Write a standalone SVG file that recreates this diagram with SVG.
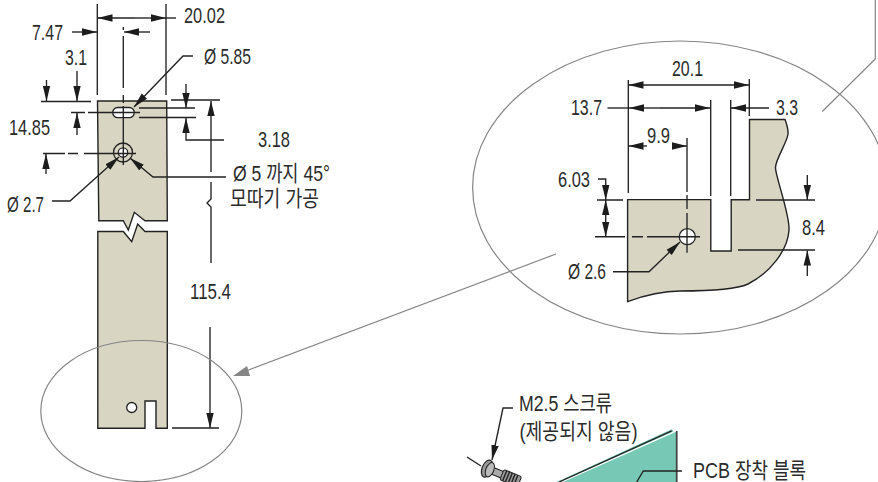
<svg xmlns="http://www.w3.org/2000/svg" width="878" height="482" viewBox="0 0 878 482">
<style>
text{font-family:"Liberation Sans","Noto Sans CJK KR",sans-serif;font-size:22px;fill:#2b2b2b}
.part{fill:#d8d5c2;stroke:#222;stroke-width:1.4}
.hole{fill:#fff;stroke:#222;stroke-width:1.3}
.dim{fill:none;stroke:#222;stroke-width:1.35}
.arr{fill:none;stroke:#222;stroke-width:1.35;marker-end:url(#a)}
.gray{fill:none;stroke:#858585;stroke-width:1.2}
</style>
<defs>
<marker id="a" markerUnits="userSpaceOnUse" markerWidth="16" markerHeight="8" refX="15" refY="4" orient="auto"><path d="M0,0.3 L15,4 L0,7.7 Z" fill="#1c1c1c"/></marker>
</defs>
<rect width="878" height="482" fill="#fff"/>
<g id="strip-upper">
<path class="part" d="M97.5,101 H166.7 L167.3,220.7 H145 L134.3,212.3 L128.3,230 L123.3,220.7 H98.8 Z"/>
<rect class="hole" x="112.7" y="107.5" width="21.6" height="10.2" rx="5.1"/>
<circle cx="123" cy="152.5" r="9.5" fill="none" stroke="#222" stroke-width="1.3"/>
<circle class="hole" cx="123" cy="152.5" r="4.7"/>
</g>
<g id="strip-lower">
<path class="part" d="M97.8,231.5 H123.3 L131.7,241.7 L137.7,224 L145,231.5 H167.3 V428.3 H156 V401 H145 V428.3 H97.8 Z"/>
<circle class="hole" cx="131.7" cy="407.5" r="5"/>
</g>
<g id="detail-part">
<path class="part" d="M627.6,199.6 H710.8 V251 H731.2 V199.7 H749.5 V119.5 H785 C787,125 788.5,129 788,134 C787,143 775,160 775.5,168 C776,178 790,215 789,230 C788,250 770,273 748,284 C735,290 700,291 680,291 C660,291 640,297 627.6,301.6 Z"/>
<circle class="hole" cx="687.3" cy="236.7" r="8"/>
</g>
<g id="pcb-block">
<path d="M671.7,429.3 L673.5,431.5 L560,482 H556.7 Z" fill="#77c8b4"/>
<path d="M676.7,431.5 V482 H563 Z" fill="#77c8b4"/>
<path d="M671.7,430.8 L559,482" class="dim"/>
<path d="M676.7,431 V482" fill="none" stroke="#444" stroke-width="1.8"/>
</g>
<g id="screw">
<path d="M467,457 L481,466" class="dim"/>
<g transform="translate(488 469) rotate(22)">
<rect x="4" y="-3.5" width="12" height="7" fill="#aaa" stroke="#222" stroke-width="1"/>
<rect x="15" y="-5.5" width="19" height="11" rx="2" fill="#999" stroke="#222" stroke-width="1"/>
<path d="M18,-5.5 V5.5 M21,-5.5 V5.5 M24,-5.5 V5.5 M27,-5.5 V5.5 M30,-5.5 V5.5" stroke="#222" stroke-width="1.4" fill="none"/>
<ellipse cx="-1" cy="0" rx="5" ry="9" fill="#999" stroke="#222" stroke-width="1.2"/>
<ellipse cx="2" cy="0" rx="4" ry="7.5" fill="#bbb" stroke="#222" stroke-width="1"/>
</g>
</g>
<g id="connectors">
<path class="dim" d="M97.3,4 V95 M166,4 V95"/>
<path class="arr" d="M135,18 H97.5"/>
<path class="arr" d="M135,18 H166"/>
<path class="dim" d="M166,18 H176"/>
<path class="arr" d="M72,32 H97"/>
<path class="arr" d="M150,32 H124"/>
<path class="dim" d="M123.3,27 V30 M123.3,36 V88 M123.3,95 V103 M123.3,106 V165"/>
<path class="arr" d="M46.5,80 V101"/>
<path class="arr" d="M77,71 V101"/>
<path class="arr" d="M77,135 V113"/>
<path class="dim" d="M41,101.5 H91 M71,112.5 H85 M88,112.5 H140"/>
<path class="arr" d="M46,174 V154"/>
<path class="dim" d="M43,153.5 H65 M68,153.5 H78 M84,153.5 H136"/>
<path class="arr" d="M193,56 H183 L134,107"/>
<path class="dim" d="M139,108 H195 M139,117.5 H196 M171,100 H220 M172,428 H219"/>
<path class="arr" d="M186,84 V108"/>
<path class="arr" d="M224,140 H186 V118"/>
<path class="arr" d="M211,172 V101"/>
<path class="dim" d="M211,182 V199 L207,203 L211,207 V263"/>
<path class="arr" d="M210,327 V428"/>
<path class="arr" d="M226,177 H153 L130,158"/>
<path class="arr" d="M52,201 H70 L119,157"/>
<path class="dim" d="M628.3,80 V193 M710.7,100 V196 M730.7,100 V196 M749.3,79 V116"/>
<path class="arr" d="M690,85 H628.5"/>
<path class="arr" d="M690,85 H749"/>
<path class="arr" d="M660,108 H629"/>
<path class="arr" d="M660,108 H710"/>
<path class="dim" d="M607.5,108 H629"/>
<path class="arr" d="M769,108 H731"/>
<path class="arr" d="M647,146 H628.5"/>
<path class="arr" d="M673,146 H687"/>
<path class="dim" d="M687,138 V192 M687,195 V209 M687,213 V252.7"/>
<path class="arr" d="M598,179 H605.7 V200"/>
<path class="arr" d="M605.7,218 V236.7"/>
<path class="arr" d="M605.7,218 V200"/>
<path class="dim" d="M597,200 H623 M595,236.7 H625 M632,236.7 H643 M647,236.7 H700"/>
<path class="arr" d="M807.3,175 V200"/>
<path class="arr" d="M807.3,276 V250.5"/>
<path class="dim" d="M756,200 H815 M738,250 H815"/>
<path class="arr" d="M613,271.7 H649 L680,242"/>
<path class="arr" d="M513,408 H503 L492,460"/>
<path class="dim" d="M682,471 H643.3 L636.7,482"/>
</g>
<g id="detail-callouts">
<ellipse class="gray" cx="141.3" cy="411" rx="100.5" ry="70.5"/>
<ellipse class="gray" cx="680" cy="187.5" rx="207.4" ry="146.5"/>
<path class="gray" d="M875.3,0 V59 L822.3,111.5"/>
<path class="gray" d="M556,254 L242,372.5"/>
<path d="M233,376 L247,366 L250,376 Z" fill="#858585"/>
</g>
<g id="labels">
<text x="184" y="23" textLength="41" lengthAdjust="spacingAndGlyphs">20.02</text>
<text x="32" y="40" textLength="31" lengthAdjust="spacingAndGlyphs">7.47</text>
<text x="65" y="65" textLength="22" lengthAdjust="spacingAndGlyphs">3.1</text>
<text x="9" y="135" textLength="41" lengthAdjust="spacingAndGlyphs">14.85</text>
<text x="204" y="64" textLength="47" lengthAdjust="spacingAndGlyphs">Ø 5.85</text>
<text x="258" y="147" textLength="32" lengthAdjust="spacingAndGlyphs">3.18</text>
<text x="233" y="181" textLength="97" lengthAdjust="spacingAndGlyphs">Ø 5 까지 45°</text>
<text x="230" y="206" textLength="89" lengthAdjust="spacingAndGlyphs">모따기 가공</text>
<text x="7" y="212" textLength="37" lengthAdjust="spacingAndGlyphs">Ø 2.7</text>
<text x="190" y="299" textLength="41" lengthAdjust="spacingAndGlyphs">115.4</text>
<text x="672" y="76" textLength="31" lengthAdjust="spacingAndGlyphs">20.1</text>
<text x="571" y="115" textLength="31" lengthAdjust="spacingAndGlyphs">13.7</text>
<text x="776" y="115" textLength="22" lengthAdjust="spacingAndGlyphs">3.3</text>
<text x="647" y="143" textLength="23" lengthAdjust="spacingAndGlyphs">9.9</text>
<text x="558" y="187" textLength="32" lengthAdjust="spacingAndGlyphs">6.03</text>
<text x="802" y="235" textLength="23" lengthAdjust="spacingAndGlyphs">8.4</text>
<text x="568" y="279" textLength="38" lengthAdjust="spacingAndGlyphs">Ø 2.6</text>
<text x="519" y="411" textLength="93" lengthAdjust="spacingAndGlyphs">M2.5 스크류</text>
<text x="519.5" y="439" textLength="118" lengthAdjust="spacingAndGlyphs">(제공되지 않음)</text>
<text x="693" y="478" textLength="113" lengthAdjust="spacingAndGlyphs">PCB 장착 블록</text>
</g>
</svg>
